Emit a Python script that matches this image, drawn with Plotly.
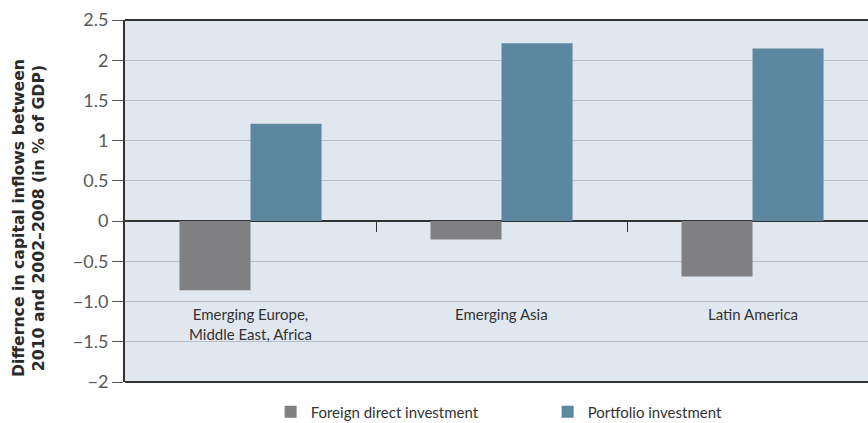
import plotly.graph_objects as go

categories = ["Emerging Europe,<br>Middle East, Africa", "Emerging Asia", "Latin America"]
fdi = [-0.86, -0.23, -0.69]
portfolio = [1.21, 2.21, 2.145]
tick_vals = [2.5, 2, 1.5, 1, 0.5, 0, -0.5, -1.0, -1.5, -2]
tick_text = ["2.5", "2", "1.5", "1", "0.5", "0", "\u22120.5", "\u22121.0", "\u22121.5", "\u22122"]
series_names = ["Foreign direct investment", "Portfolio investment"]
colors = ["#808083", "#5b87a0"]
y_title = "<b>Differnce in capital inflows between<br>2010 and 2002\u20132008 (in % of GDP)</b>"

xpos = list(range(len(categories)))

fig = go.Figure()
fig.add_trace(go.Bar(x=xpos, y=fdi, name=series_names[0], marker_color=colors[0],
                     marker_line_width=0))
fig.add_trace(go.Bar(x=xpos, y=portfolio, name=series_names[1], marker_color=colors[1],
                     marker_line_width=0))

for i, c in enumerate(categories):
    fig.add_annotation(x=i, y=-1.02, xref="x", yref="y", text=c, showarrow=False,
                       yanchor="top", xanchor="center",
                       font=dict(family="Lato", size=15, color="#333333"))

fig.add_annotation(x=-0.1305, y=0.453, xref="paper", yref="paper", text=y_title,
                   showarrow=False, textangle=-90, xanchor="center", yanchor="middle",
                   font=dict(family="DejaVu Sans", size=15.7, color="#2a2a2a"))

fig.add_shape(type="line", xref="paper", yref="paper", x0=0, x1=1, y0=1, y1=1,
              line=dict(color="#333333", width=2))
fig.add_shape(type="line", xref="paper", yref="paper", x0=0, x1=1, y0=0, y1=0,
              line=dict(color="#333333", width=2))

fig.update_layout(
    width=868, height=423,
    margin=dict(l=125, r=0, t=20, b=41, autoexpand=False),
    paper_bgcolor="white",
    plot_bgcolor="#e1e7ef",
    barmode="group",
    bargap=0.434,
    bargroupgap=0,
    showlegend=True,
    legend=dict(orientation="h", x=0.196, xanchor="left", y=-0.083, yanchor="middle",
                font=dict(family="Lato", size=15, color="#333333"),
                entrywidth=232, entrywidthmode="pixels", itemsizing="constant",
                bgcolor="rgba(0,0,0,0)"),
    xaxis=dict(range=[-0.5, 2.46], showgrid=False, zeroline=False, showline=False,
               tickvals=[0.5, 1.5], ticks="outside", ticklen=10, tickcolor="#333333",
               showticklabels=False, anchor="free", position=2/4.5, automargin=False),
    yaxis=dict(range=[-2, 2.5], tickvals=tick_vals, ticktext=tick_text,
               showgrid=True, gridcolor="#b9bec6", gridwidth=1,
               zeroline=True, zerolinecolor="#333333", zerolinewidth=1.5,
               showline=True, linecolor="#333333", linewidth=2,
               ticks="outside", ticklen=11, tickcolor="#555555",
               tickfont=dict(family="Lato", size=18, color="#5a5a5a"),
               automargin=False),
)

fig.write_html("out.html", config={"displayModeBar": False},
               post_script="document.body.style.margin='0';document.body.style.overflow='hidden';")
